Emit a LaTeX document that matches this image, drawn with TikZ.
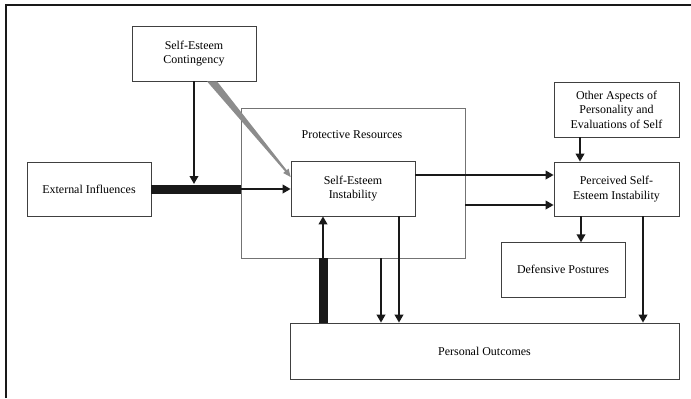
\documentclass[tikz,border=0pt]{standalone}
\usepackage{fontspec}
\setmainfont{Liberation Serif}
\usepackage{tikz}
\usetikzlibrary{calc,arrows.meta}
\tikzset{
	box/.style={draw=black!75, line width=0.7bp, align=center, inner sep=2bp, font=\fontsize{12}{14.5}\selectfont},
	arr/.style={draw=black!90, line width=2.5bp, -{Triangle[length=8bp,width=8.5bp]}},
	bar/.style={draw=black!90, line width=9bp}
}

\begin{document}
\begin{tikzpicture}[x=1bp, y=-1bp]
			%%%%% START %%%%%
			\useasboundingbox (0,0) rectangle (691,398);
			\draw[line width=2bp, color=black!90] (6,398) -- (6,5) -- (691,5);
			
			\node[box, minimum width=224bp, minimum height=150bp, draw=black!55] (prot) at (353,183) {};
			\node[font=\fontsize{12}{14.5}\selectfont] (protlbl) at (352,135) {Protective Resources};
			
			\node[box, minimum width=124bp, minimum height=55bp] (cont) at (194,53.5) {Self-Esteem\\Contingency};
			\node[box, minimum width=124bp, minimum height=54bp] (ext) at (89,189) {External Influences};
			\node[box, minimum width=124bp, minimum height=55bp, fill=white] (inst) at (353,188.5) {Self-Esteem\\Instability};
			\node[box, minimum width=125bp, minimum height=55bp] (other) at (616.5,109.5) {Other Aspects of\\Personality and\\Evaluations of Self};
			\node[box, minimum width=125bp, minimum height=54bp] (perc) at (616.5,189) {Perceived Self-\\Esteem Instability};
			\node[box, minimum width=124bp, minimum height=55bp] (def) at (563,269.5) {Defensive Postures};
			\node[box, minimum width=389bp, minimum height=56bp] (out) at (484.5,351) {Personal Outcomes};
			
			\coordinate (barend) at (ext.east -| prot.west);
			\draw[bar] (ext.east) -- (barend);
			\draw[arr] (barend) -- (inst.west |- barend);
			\draw[arr] (cont.south) -- ($(cont.south |- ext.east)+(0,-5)$);
			
			\fill[black!45] ($(cont.south)+(13,0)$) -- ($(cont.south)+(23,0)$) -- (286.7,170.2) -- (288.6,168.6)
				-- ($(inst.west)+(0,-11.5)$) -- (283.2,173.0) -- (285.1,171.4) -- cycle;
			
			\draw[arr] ($(inst.east)+(0,-13.5)$) -- ($(inst.east -| perc.west)+(0,-13.5)$);
			\draw[arr] ($(prot.east)+(0,22)$) -- ($(prot.east -| perc.west)+(0,22)$);
			\draw[arr] ($(other.south)+(-36.5,0)$) -- ($(perc.north)+(-36.5,0)$);
			\draw[arr] ($(perc.south)+(-35.5,0)$) -- ($(perc.south -| def.north)+(18,26)$);
			\draw[arr] ($(perc.south)+(26.5,0)$) -- ($(perc.south |- out.north)+(26.5,0)$);
			\draw[arr] ($(prot.south)+(28,0)$) -- ($(prot.south |- out.north)+(28,0)$);
			\draw[arr] ($(inst.south)+(46,0)$) -- ($(inst.south |- out.north)+(46,0)$);
			
			\draw[bar] ($(out.north -| inst.south)+(-30,0)$) -- ($(prot.south)+(-30,0)$);
			\draw[arr] ($(prot.south)+(-30,0)$) -- ($(inst.south)+(-30,0)$);
			%%%%% END %%%%%
\end{tikzpicture}
\end{document}
